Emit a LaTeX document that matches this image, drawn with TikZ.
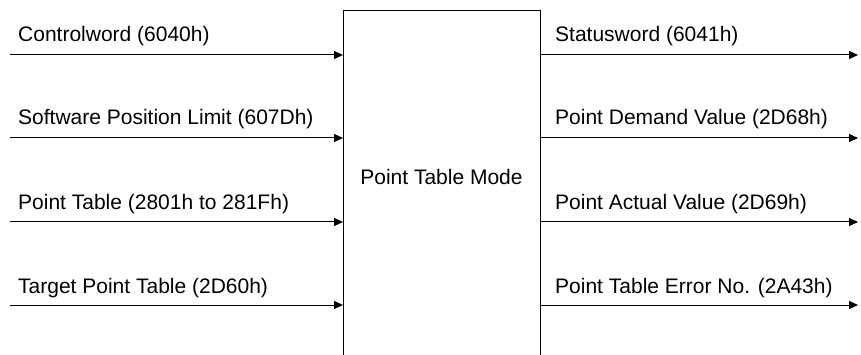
\documentclass[tikz,border=0pt]{standalone}
\usepackage{fontspec}
\setmainfont{Liberation Sans}
\usetikzlibrary{arrows.meta}
\begin{document}
\begin{tikzpicture}[x=1pt,y=-1pt,
  lbl/.style={anchor=base west,inner sep=0pt,font=\fontsize{21}{25}\selectfont},
  arr/.style={line width=1pt,-{Triangle[length=9pt,width=8pt]}},
  modebox/.style={draw,line width=1.4pt,anchor=north west,minimum width=197pt,minimum height=370pt,inner sep=0pt}]
\useasboundingbox (0,0) rectangle (861,355);
\node[modebox] (mode) at (343,10) {};
\node[lbl,anchor=base] (title) at (441.5,185) {Point Table Mode};
% inputs
\coordinate (in1) at (10,55);
\coordinate (in2) at (10,138);
\coordinate (in3) at (10,222);
\coordinate (in4) at (10,305);
\draw[arr] (in1) -- (in1 -| mode.west);
\draw[arr] (in2) -- (in2 -| mode.west);
\draw[arr] (in3) -- (in3 -| mode.west);
\draw[arr] (in4) -- (in4 -| mode.west);
\node[lbl] (l1) at (18,42) {Controlword (6040h)};
\node[lbl] (l2) at (18,125) {Software Position Limit (607Dh)};
\node[lbl] (l3) at (18,210) {Point Table (2801h to 281Fh)};
\node[lbl] (l4) at (18,293) {Target Point Table (2D60h)};
% outputs
\coordinate (out1) at (858,55);
\coordinate (out2) at (858,138);
\coordinate (out3) at (858,222);
\coordinate (out4) at (858,305);
\draw[arr] (out1 -| mode.east) -- (out1);
\draw[arr] (out2 -| mode.east) -- (out2);
\draw[arr] (out3 -| mode.east) -- (out3);
\draw[arr] (out4 -| mode.east) -- (out4);
\node[lbl] (r1) at (555,42) {Statusword (6041h)};
\node[lbl] (r2) at (555,125) {Point Demand Value (2D68h)};
\node[lbl] (r3) at (555,210) {Point Actual Value (2D69h)};
\node[lbl] (r4) at (555,293) {Point Table Error No. (2A43h)};
\end{tikzpicture}
\end{document}
